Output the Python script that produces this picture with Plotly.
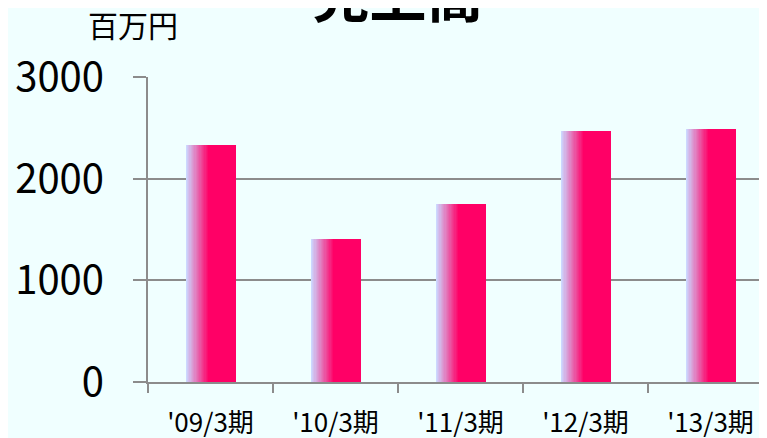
import plotly.graph_objects as go

categories = ["'09/3期", "'10/3期", "'11/3期", "'12/3期", "'13/3期"]
sales = [2331, 1406, 1751, 2469, 2488]
y_ticks = [0, 1000, 2000, 3000]

title_text = "売上高"
unit_text = "百万円"

bar_width = 0.4
grad_frac = 0.45
n_slices = 18
c0 = (204, 216, 255)
c1 = (255, 0, 102)

fig = go.Figure()
start = -bar_width / 2
grad_w = bar_width * grad_frac
for i in range(n_slices + 1):
    t = i / n_slices
    col = tuple(round(c0[k] + (c1[k] - c0[k]) * t) for k in range(3))
    off = start + grad_w * t
    fig.add_trace(go.Bar(
        x=categories, y=sales,
        offset=off, width=bar_width / 2 - off,
        marker=dict(color="rgb(%d,%d,%d)" % col, line=dict(width=0)),
        hoverinfo="skip", showlegend=False,
    ))

font_main = "Noto Sans CJK JP, Liberation Sans, sans-serif"

L, T, W, H = 140, 69, 625, 305

fig.update_layout(
    width=767, height=438,
    margin=dict(l=L, r=767 - L - W, t=T, b=438 - T - H, autoexpand=False),
    paper_bgcolor="#F0FFFF", plot_bgcolor="#F0FFFF",
    barmode="overlay",
    bargap=0,
    title=dict(text="<b>%s</b>" % title_text, font=dict(family=font_main, size=57, color="black"),
               x=390 / 767, xanchor="center", yref="container", y=1 - 9 / 438, yanchor="bottom"),
    annotations=[dict(text=unit_text, xref="paper", yref="paper", x=(125 - L) / W, y=1 + (T - 16) / H,
                      xanchor="center", yanchor="middle", showarrow=False,
                      font=dict(family=font_main, size=30, color="black"))],
    xaxis=dict(
        type="category", range=[-0.5, 4.5], automargin=False,
        showgrid=False, showline=True, linecolor="#8c8c8c", linewidth=2,
        ticks="outside", tickson="boundaries", ticklen=9, tickcolor="#8c8c8c", tickwidth=2,
        tickfont=dict(family=font_main, size=26, color="black"),
        ticklabelstandoff=17,
    ),
    yaxis=dict(
        range=[0, 3000], tickvals=y_ticks, automargin=False,
        showgrid=True, gridcolor="#8c8c8c", gridwidth=1.5,
        zeroline=False,
        showline=True, linecolor="#8c8c8c", linewidth=2,
        ticks="outside", ticklen=13, tickcolor="#8c8c8c", tickwidth=2,
        tickfont=dict(family=font_main, size=40, color="black"),
        ticklabelstandoff=21,
    ),
)

fig.write_html("out.html")
